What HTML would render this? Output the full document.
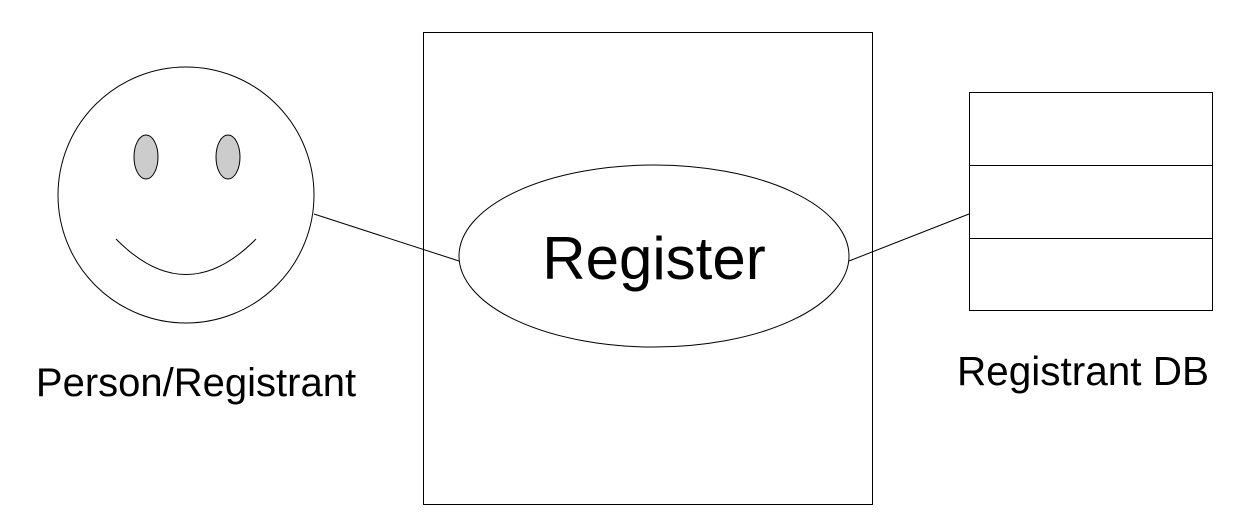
<!DOCTYPE html>
<html><head><style>html,body{margin:0;padding:0;background:#fff;}svg{display:block}</style></head>
<body>
<svg width="1239" height="532" viewBox="0 0 1239 532" xmlns="http://www.w3.org/2000/svg" font-family="Liberation Sans, sans-serif">
<circle cx="186" cy="195" r="128" fill="#fff" stroke="#000" stroke-width="1"/>
<ellipse cx="146" cy="157" rx="12" ry="22" fill="#ccc" stroke="#000" stroke-width="1"/>
<ellipse cx="228" cy="157" rx="12" ry="22" fill="#ccc" stroke="#000" stroke-width="1"/>
<path d="M116 239 Q186 310 256 239" fill="none" stroke="#000" stroke-width="1"/>
<text x="196" y="396" font-size="40" text-anchor="middle">Person/Registrant</text>
<rect x="423.5" y="32.5" width="449" height="472" fill="#fff" stroke="#000" stroke-width="1"/>
<ellipse cx="654" cy="256" rx="195" ry="91" fill="#fff" stroke="#000" stroke-width="1"/>
<text x="654" y="279" font-size="60" text-anchor="middle">Register</text>
<line x1="314" y1="214" x2="459" y2="261" stroke="#000" stroke-width="1"/>
<line x1="849" y1="261" x2="969" y2="214" stroke="#000" stroke-width="1"/>
<rect x="969.5" y="92.5" width="243" height="218" fill="#fff" stroke="#000" stroke-width="1"/>
<line x1="969" y1="165.5" x2="1212" y2="165.5" stroke="#000" stroke-width="1"/>
<line x1="969" y1="238.5" x2="1212" y2="238.5" stroke="#000" stroke-width="1"/>
<text x="1083" y="385" font-size="40.5" text-anchor="middle">Registrant DB</text>
</svg>
</body></html>
